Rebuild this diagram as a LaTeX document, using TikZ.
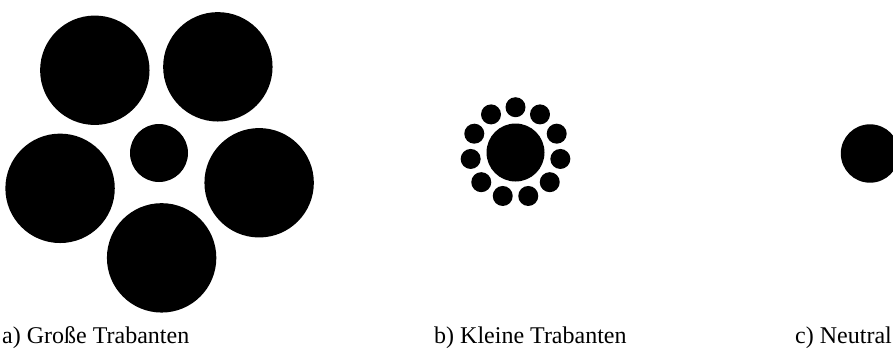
\documentclass[tikz,border=0pt]{standalone}
\usepackage{fontspec}
\setmainfont{Liberation Serif}
\begin{document}
\begin{tikzpicture}[x=1pt,y=-1pt,
  disk/.style={circle,fill=black,draw=none,inner sep=0pt,minimum size=#1},
  lbl/.style={anchor=base west,inner sep=0pt,font=\fontsize{24}{28}\selectfont}]
\useasboundingbox (0,0) rectangle (893,354);
\clip (0,0) rectangle (893,354);
% a) large satellites
\node[disk=58pt] (ac) at (159,153) {};
\foreach \k in {0,...,4} {
  \pgfmathsetmacro\a{-88.4+72*\k}
  \node[disk=109.4pt] (a\k) at ({158.7+104.7*cos(\a)},{153.2-104.7*sin(\a)}) {};
}
% b) small satellites
\node[disk=58pt] (bc) at (515.5,152.5) {};
\foreach \k in {0,...,10} {
  \pgfmathsetmacro\a{90+360/11*\k}
  \node[disk=20pt] (b\k) at ({515.5+45.3*cos(\a)},{152.5-45.3*sin(\a)}) {};
}
% c) neutral
\node[disk=58.4pt] (cc) at (870,153.5) {};
% labels
\node[lbl] (la) at (2,343) {a) Große Trabanten};
\node[lbl] (lb) at (434,343) {b) Kleine Trabanten};
\node[lbl] (lc) at (795,343) {c) Neutral};
\end{tikzpicture}
\end{document}
